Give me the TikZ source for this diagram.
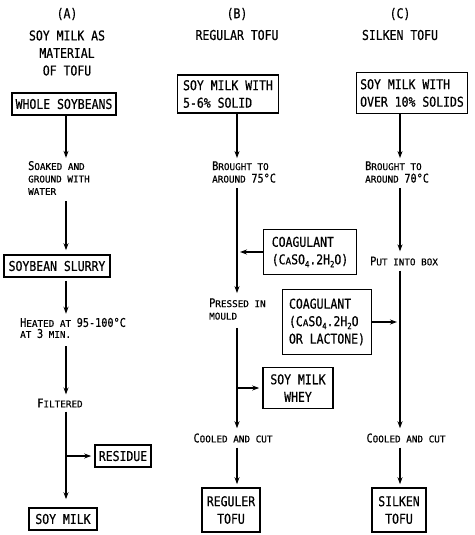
\documentclass[tikz,border=0pt]{standalone}
\usepackage{fontspec}
\usetikzlibrary{arrows.meta}
\newfontfamily\bigf[FakeStretch=0.85,FakeBold=0.6]{DejaVu Sans Mono}
\newfontfamily\smf[FakeBold=0.6]{DejaVu Sans Mono}
\newcommand\mainf{\bigf\fontsize{13.5}{17.5}\selectfont}
\newcommand\BG[1]{{\bigf\fontsize{12}{12}\selectfont #1}}
\newcommand\SM[1]{{\smf\fontsize{9.3}{9.3}\selectfont #1}}
\newcommand\sbs[1]{\raisebox{-0.4ex}{\fontsize{8.5}{8.5}\selectfont #1}}
\begin{document}
\begin{tikzpicture}[x=1pt,y=-1pt,
  every node/.style={font=\mainf, inner sep=0pt},
  box/.style={draw, line width=1.6pt, inner sep=2pt},
  note/.style={align=left, anchor=west, font=\smf\fontsize{9.3}{12.5}\selectfont},
  arr/.style={line width=1.4pt, -{Stealth[length=7pt,width=5pt]}}]
\useasboundingbox (0,0) rectangle (474,535);
\coordinate (xA) at (66,0);
\coordinate (xB) at (237,0);
\coordinate (xC) at (400,0);
% column A
\node (hA) at (67,14) {(A)};
\node[align=center] (tA) at (67,53) {SOY MILK AS\\MATERIAL\\OF TOFU};
\node[box, minimum width=104pt, minimum height=22pt] (wsb) at (64,104) {WHOLE SOYBEANS};
\node[note] (soak) at (28,178) {\BG{S}\SM{OAKED AND}\\\SM{GROUND WITH}\\\SM{WATER}};
\node[box, minimum width=106pt, minimum height=22pt] (slurry) at (57,266) {SOYBEAN SLURRY};
\node[note, font=\smf\fontsize{9.3}{11}\selectfont] (heat) at (20,328) {\BG{H}\SM{EATED AT }\BG{95-100°C}\\\SM{AT }\BG{3}\SM{ MIN.}};
\node[note, anchor=center] (filt) at (60,403) {\BG{F}\SM{ILTERED}};
\node[box, minimum width=56pt, minimum height=22pt] (res) at (123,456) {RESIDUE};
\node[box, minimum width=68pt, minimum height=22pt] (sm) at (63,519) {SOY MILK};
\draw[arr, shorten >=3pt] (wsb.south -| xA) -- (soak.north -| xA);
\draw[arr, shorten <=6pt, shorten >=4pt] (soak.south -| xA) -- (slurry.north -| xA);
\draw[arr, shorten <=3pt, shorten >=4pt] (slurry.south -| xA) -- (heat.north -| xA);
\draw[arr, shorten <=8pt, shorten >=4pt] (heat.south -| xA) -- (filt.north -| xA);
\draw[arr, shorten <=4pt, shorten >=8pt] (filt.south -| xA) -- (sm.north -| xA);
\draw[arr, shorten >=3pt] (xA |- res.west) -- (res.west);
% column B
\node (hB) at (237,14) {(B)};
\node (tB) at (237,35) {REGULAR TOFU};
\node[box, align=left, minimum width=101pt, minimum height=38pt] (smB) at (228,94) {SOY MILK WITH\\5-6\% SOLID};
\node[note] (broB) at (212,172) {\BG{B}\SM{ROUGHT TO}\\\SM{AROUND }\BG{75°C}};
\node[box, align=left, minimum width=93pt, minimum height=45pt] (coagB) at (310,252) {COAGULANT\\(C\SM{A}SO\sbs{4}.2H\sbs{2}O)};
\node[note] (pressB) at (209,309) {\BG{P}\SM{RESSED IN}\\\SM{MOULD}};
\node[box, minimum width=70pt, minimum height=41pt, align=center] (wheyB) at (298,388) {SOY MILK\\WHEY};
\node[note, anchor=center] (coolB) at (233,438) {\BG{C}\SM{OOLED AND CUT}};
\node[box, minimum width=58pt, minimum height=44pt, align=center] (regB) at (231,510) {REGULER\\TOFU};
\draw[arr, shorten >=3pt] (smB.south -| xB) -- (broB.north -| xB);
\draw[arr, shorten <=5pt, shorten >=5pt] (broB.south -| xB) -- (pressB.north -| xB);
\draw[arr, shorten >=3pt] (coagB.west) -- (coagB.west -| xB);
\draw[arr, shorten <=8pt, shorten >=5pt] (pressB.south -| xB) -- (coolB.north -| xB);
\draw[arr, shorten >=3pt] (xB |- wheyB.west) -- (wheyB.west);
\draw[arr, shorten <=5pt, shorten >=3pt] (coolB.south -| xB) -- (regB.north -| xB);
% column C
\node (hC) at (400,14) {(C)};
\node (tC) at (400,35) {SILKEN TOFU};
\node[box, align=left, minimum width=111pt, minimum height=41pt] (smC) at (412,93) {SOY MILK WITH\\OVER 10\% SOLIDS};
\node[note] (broC) at (365,172) {\BG{B}\SM{ROUGHT TO}\\\SM{AROUND }\BG{70°C}};
\node[note] (putC) at (370,261) {\BG{P}\SM{UT INTO BOX}};
\node[box, align=left, minimum width=89pt, minimum height=65pt] (coagC) at (327,322) {COAGULANT\\(C\SM{A}SO\sbs{4}.2H\sbs{2}O\\OR LACTONE)};
\node[note, anchor=center] (coolC) at (406,438) {\BG{C}\SM{OOLED AND CUT}};
\node[box, minimum width=54pt, minimum height=44pt, align=center] (silC) at (399,510) {SILKEN\\TOFU};
\draw[arr, shorten >=3pt] (smC.south -| xC) -- (broC.north -| xC);
\draw[arr, shorten <=5pt, shorten >=5pt] (broC.south -| xC) -- (putC.north -| xC);
\draw[arr, shorten <=5pt, shorten >=5pt] (putC.south -| xC) -- (coolC.north -| xC);
\draw[arr, shorten >=3pt] (coagC.east) -- (coagC.east -| xC);
\draw[arr, shorten <=5pt, shorten >=3pt] (coolC.south -| xC) -- (silC.north -| xC);
\end{tikzpicture}
\end{document}
